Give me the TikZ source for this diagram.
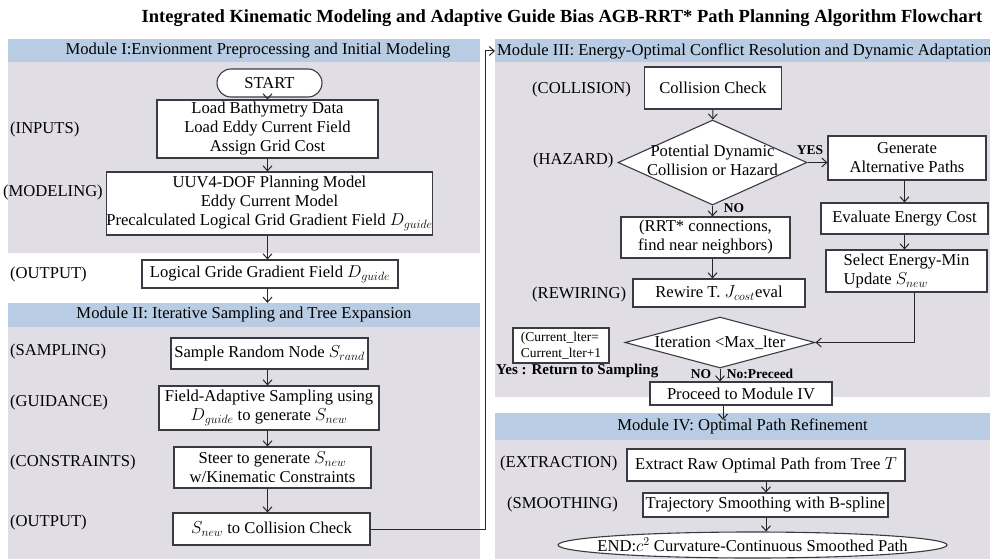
\documentclass[tikz,border=0pt]{standalone}
\usepackage{fontspec}
\setmainfont{Liberation Serif}
\usetikzlibrary{shapes.geometric, arrows.meta, positioning}
\definecolor{hdrblue}{RGB}{184,204,228}
\definecolor{panelgrey}{RGB}{224,222,228}
\definecolor{edgegrey}{RGB}{58,58,68}
\tikzstyle{process} = [rectangle, draw=edgegrey, line width=1.1pt, fill=white, align=center, inner sep=0pt, font=\fontsize{16.6}{19}\selectfont]
\tikzstyle{decision} = [diamond, draw=edgegrey, line width=1.1pt, fill=white, inner sep=0pt]
\tikzstyle{terminal} = [rectangle, rounded corners=14pt, draw=edgegrey, line width=1.1pt, fill=white, inner sep=0pt, font=\fontsize{16.6}{19}\selectfont]
\tikzstyle{stage} = [anchor=west, inner sep=0pt, font=\fontsize{16.6}{19}\selectfont]
\tikzstyle{header} = [rectangle, fill=hdrblue, inner sep=0pt, font=\fontsize{16.6}{19}\selectfont]
\tikzstyle{tag} = [inner sep=0pt, font=\bfseries\fontsize{13.5}{16}\selectfont]
\tikzstyle{flow} = [-{Straight Barb[length=5pt,width=9pt]}, line width=1pt, draw=black!85]

\begin{document}
\begin{tikzpicture}[x=1pt, y=-1pt]
  \useasboundingbox (0,0) rectangle (990,559);

  % Title
  \node (title) at (562,18) {\bfseries\fontsize{18.5}{21}\selectfont Integrated Kinematic Modeling and Adaptive Guide Bias AGB-RRT* Path Planning Algorithm Flowchart};

  % Panels
  \fill[panelgrey] (8,62) rectangle (480,253);
  \fill[panelgrey] (8,327) rectangle (480,559);
  \fill[panelgrey] (495,62) rectangle (990,397);
  \fill[panelgrey] (495,440) rectangle (990,559);

  % Module headers
  \node[header, minimum width=472pt, minimum height=23pt, label={[font=\fontsize{16.6}{19}\selectfont, xshift=14pt]center:Module I:Envionment Preprocessing and Initial Modeling}] (hdrI) at (244,51) {};
  \node[header, minimum width=472pt, minimum height=24pt] (hdrII) at (244,315) {Module II: Iterative Sampling and Tree Expansion};
  \node[header, anchor=west, minimum width=497pt, minimum height=23pt, inner xsep=2pt] (hdrIII) at (495,51) {Module III: Energy-Optimal Conflict Resolution and Dynamic Adaptation};
  \node[header, minimum width=495pt, minimum height=27pt] (hdrIV) at (742.5,426.5) {Module IV: Optimal Path Refinement};

  % Module I
  \node[terminal, minimum width=105pt, minimum height=28pt] (start) at (269.5,83) {START};
  \node[process, minimum width=221pt, minimum height=58pt] (inputs) at (267.5,129) {Load Bathymetry Data\\Load Eddy Current Field\\Assign Grid Cost};
  \node[process, minimum width=321pt, minimum height=63pt] (modeling) at (269.5,203.5) {UUV4-DOF Planning Model\\Eddy Current Model\\Precalculated Logical Grid Gradient Field $D_{guide}$};
  \node[process, minimum width=256pt, minimum height=28pt] (field) at (270,274) {Logical Gride Gradient Field $D_{guide}$};
  \node[stage] (inputsl) at (10,130) {(INPUTS)};
  \node[stage] (modelingl) at (3,193) {(MODELING)};
  \node[stage] (fieldl) at (10,275) {(OUTPUT)};

  % Module II
  \node[process, minimum width=197pt, minimum height=31pt] (sample) at (269.5,353.5) {Sample Random Node $S_{rand}$};
  \node[process, minimum width=220pt, minimum height=44pt] (guide) at (269,408) {Field-Adaptive Sampling using\\$D_{guide}$ to generate $S_{new}$};
  \node[process, minimum width=197pt, minimum height=41pt] (steer) at (272.5,467.5) {Steer to generate $S_{new}$\\w/Kinematic Constraints};
  \node[process, minimum width=197pt, minimum height=32pt] (snew) at (271.5,529) {$S_{new}$ to Collision Check};
  \node[stage] (samplel) at (10,352) {(SAMPLING)};
  \node[stage] (guidel) at (10,403) {(GUIDANCE)};
  \node[stage] (steerl) at (10,463) {(CONSTRAINTS)};
  \node[stage] (snewl) at (10,523) {(OUTPUT)};

  % Module III
  \node[process, minimum width=137pt, minimum height=42pt] (collision) at (713,88) {Collision Check};
  \node[decision, minimum width=189pt, minimum height=85pt, label={[align=center, font=\fontsize{16.6}{19}\selectfont, yshift=2pt]center:{Potential Dynamic\\Collision or Hazard}}] (hazard) at (712.5,162.5) {};
  \node[process, minimum width=158pt, minimum height=44pt] (generate) at (907,158) {Generate\\Alternative Paths};
  \node[process, minimum width=167pt, minimum height=31pt] (evaluate) at (904.5,218.5) {Evaluate Energy Cost};
  \node[process, minimum width=161pt, minimum height=42pt, align=left] (select) at (906.5,271) {Select Energy-Min\\Update $S_{new}$};
  \node[process, minimum width=169pt, minimum height=41pt] (rrt) at (705.5,237.5) {(RRT* connections,\\find near neighbors)};
  \node[process, minimum width=172pt, minimum height=28pt] (rewire) at (719,293) {Rewire T. $J_{cost}$eval};
  \node[decision, minimum width=190pt, minimum height=51pt, label={[font=\fontsize{16.6}{19}\selectfont]center:Iteration <Max\_lter}] (iter) at (720,342.5) {};
  \node[process, minimum width=96pt, minimum height=35pt, align=left, font=\fontsize{13.5}{16}\selectfont] (counter) at (561,345.5) {(Current\_lter=\\Current\_lter+1};
  \node[process, minimum width=182pt, minimum height=23pt] (proceed) at (741,393.5) {Proceed to Module IV};
  \node[stage] (collisionl) at (532,90) {(COLLISION)};
  \node[stage] (hazardl) at (533,161) {(HAZARD)};
  \node[stage] (rewirel) at (532,295) {(REWIRING)};
  \node[tag] (yes) at (810,150) {YES};
  \node[tag] (no) at (734,208) {NO};
  \node[tag, anchor=west, font=\bfseries\fontsize{15}{17}\selectfont] (back) at (496,371) {Yes : Return to Sampling};
  \node[tag] (no2) at (701,374) {NO};
  \node[tag] (go) at (760,374) {No:Preceed};

  % Module IV
  \node[process, minimum width=278pt, minimum height=32pt] (extract) at (766,465) {Extract Raw Optimal Path from Tree $T$};
  \node[process, minimum width=245pt, minimum height=24pt] (smooth) at (765.5,505) {Trajectory Smoothing with B-spline};
  \node[ellipse, draw=edgegrey, line width=1.1pt, fill=white, inner sep=0pt, minimum width=389pt, minimum height=26pt, label={[font=\fontsize{16.6}{19}\selectfont]center:END:$c^2$ Curvature-Continuous Smoothed Path}] (finish) at (752.5,545) {};
  \node[stage] (extractl) at (500,464) {(EXTRACTION)};
  \node[stage] (smoothl) at (507,505) {(SMOOTHING)};

  % Module I and II flow
  \draw[flow] (start.south -| inputs) -- (inputs);
  \draw[flow] (inputs) -- (inputs |- modeling.north);
  \draw[flow] (modeling.south -| inputs) -- (inputs |- field.north);
  \draw[flow] (field.south -| inputs) -- (inputs |- hdrII.north);
  \draw[flow] (sample.south -| inputs) -- (inputs |- guide.north);
  \draw[flow] (guide.south -| inputs) -- (inputs |- steer.north);
  \draw[flow] (steer.south -| inputs) -- (inputs |- snew.north);
  \coordinate (turn) at (485,529);
  \draw[flow] (snew.east) -- (turn) |- (hdrIII.west);

  % Module III flow
  \draw[flow] (collision) -- (hazard);
  \draw[flow] (hazard.east) -- (hazard.east -| generate.west);
  \draw[flow] (generate.south -| evaluate) -- (evaluate);
  \draw[flow] (evaluate.south -| evaluate) -- (evaluate |- select.north);
  \draw[flow] (hazard.south) -- (hazard.south |- rrt.north);
  \draw[flow] (hazard.south |- rrt.south) -- (hazard.south |- rewire.north);
  \draw[flow] ([xshift=8pt]select.south) |- (iter.east);
  \draw[flow] (iter.south) -- (iter.south |- proceed.north);
  \draw[flow] ([xshift=-18pt]proceed.south) -- ([xshift=-18pt]proceed.south |- hdrIV.north) -- ++(0,7);

  % Module IV flow
  \draw[flow] (extract) -- (extract |- smooth.north);
  \draw[flow] (smooth.south -| extract) -- (extract |- finish.north);
\end{tikzpicture}
\end{document}
